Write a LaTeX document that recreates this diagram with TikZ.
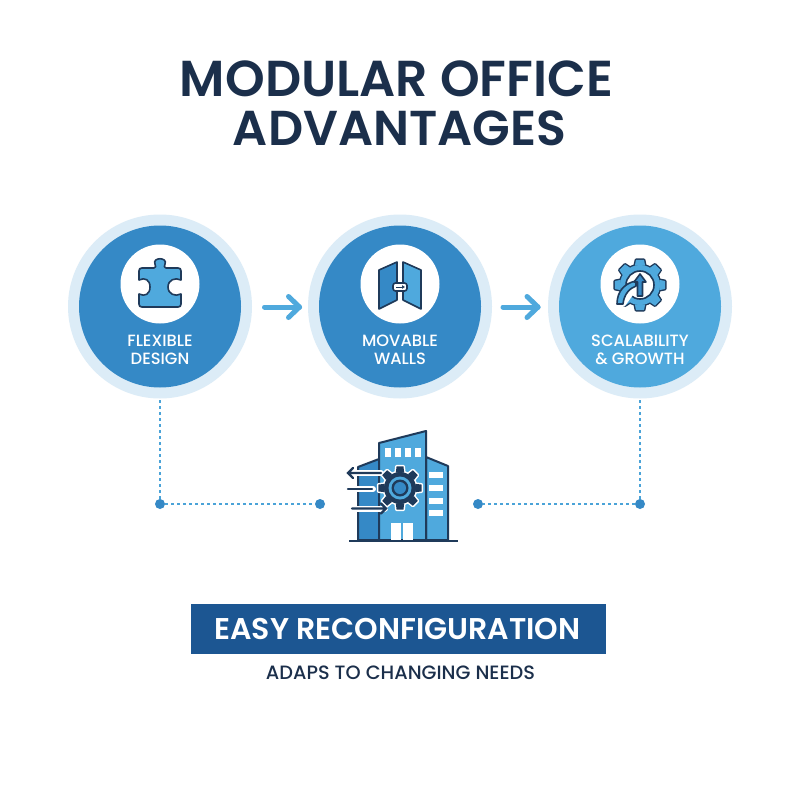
\documentclass[tikz,border=0pt]{standalone}
\usepackage{fontspec}
\setmainfont{Poppins}
\newfontfamily\pbold{Poppins}[UprightFont=* SemiBold]
\newfontfamily\pmed{Poppins}[UprightFont=* Medium]
\usetikzlibrary{calc,arrows.meta}
\definecolor{ink}{HTML}{1B2F4B}
\definecolor{navy}{HTML}{1C5692}
\definecolor{blueA}{HTML}{3589C6}
\definecolor{blueB}{HTML}{4FA9DD}
\definecolor{ringc}{HTML}{DCECF7}
\definecolor{iconin}{HTML}{1F3A5A}
\tikzset{
 ringnode/.style={circle,fill=ringc,minimum size=184pt,inner sep=0pt,outer sep=0pt},
 disc/.style={circle,fill=#1,minimum size=162pt,inner sep=0pt},
 whitedisc/.style={circle,fill=white,minimum size=79pt,inner sep=0pt},
 lab/.style={font=\pmed\fontsize{16.3}{18}\selectfont,text=white,align=center,inner sep=0pt},
 flow/.style={blueB,line width=5pt,line cap=round,line join=round},
 dotlink/.style={blueB!80!blueA,line width=1.2pt,dash pattern=on 3pt off 3pt},
 enddot/.style={circle,fill=blueA,minimum size=10pt,inner sep=0pt},
 iconline/.style={draw=iconin,line width=1.6pt,line join=round},
 bdline/.style={draw=iconin,line width=2pt,line join=round},
 bdarrow/.style={iconin,line width=2.4pt,line cap=round},
 halo/.style={white,line width=6pt,line cap=round},
}
\newcommand\gearparts[3]{%
 \foreach \a in {0,45,...,315}{\path[#3] (\a-15:#1) -- (\a-9:#2) -- (\a+9:#2) -- (\a+15:#1) -- cycle;}%
 \path[#3] (0,0) circle (#1);}
\begin{document}
\begin{tikzpicture}[x=1pt,y=-1pt]
\useasboundingbox (0,0) rectangle (800,800);
\fill[white] (0,0) rectangle (800,800);
% title
\node[font=\pbold\fontsize{50.5}{60}\selectfont,text=ink,inner sep=0pt] (t1) at (396.5,79) {MODULAR OFFICE};
\node[font=\pbold\fontsize{49}{60}\selectfont,text=ink,inner sep=0pt] (t2) at (399.5,128) {ADVANTAGES};
% circles
\node[ringnode] (r1) at (160,306.5) {};
\node[ringnode] (r2) at (400,306.5) {};
\node[ringnode] (r3) at (640,306.5) {};
\node[disc=blueA] (d1) at (160,306.5) {};
\node[disc=blueA] (d2) at (400,306.5) {};
\node[disc=blueB] (d3) at (640,306.5) {};
\node[whitedisc] (w1) at (160,284) {};
\node[whitedisc] (w2) at (400,284) {};
\node[whitedisc] (w3) at (640,284) {};
\node[lab] (l1) at (160,349.5) {FLEXIBLE\\DESIGN};
\node[lab] (l2) at (400,349.5) {MOVABLE\\WALLS};
\node[lab] (l3) at (640,349.5) {SCALABILITY\\\& GROWTH};
% puzzle
\path[fill=blueB,iconline]
 (142,268) -- (154,268) .. controls (156,268) and (156,266) .. (155,264)
 .. controls (152,257) and (168,257) .. (165,264)
 .. controls (164,266) and (164,268) .. (166,268) -- (178,268)
 .. controls (180,268) and (181,269) .. (181,271) -- (181,280)
 .. controls (175,277) and (168,280) .. (168,287)
 .. controls (168,294) and (175,297) .. (181,294) -- (181,304)
 .. controls (181,306) and (180,307) .. (178,307) -- (142,307)
 .. controls (140,307) and (139,306) .. (139,304) -- (139,294)
 .. controls (145,297) and (150,294) .. (150,287)
 .. controls (150,280) and (145,277) .. (139,280) -- (139,271)
 .. controls (139,269) and (140,268) .. (142,268) -- cycle;
% walls
\path[fill=blueA,iconline] (379,270) -- (397,262) -- (397,300) -- (379,309) -- cycle;
\path[fill=blueB,iconline] (403,262) -- (421,270) -- (421,309) -- (403,300) -- cycle;
\path[fill=white,iconline,rounded corners=2.5pt] (393,283) rectangle (407,291);
\draw[iconin,line width=1pt,-{Latex[length=3pt,width=4pt]}] (396,287) -- (405,287);
% growth gear
\begin{scope}[shift={(640,285)}]
 \gearparts{20}{25.5}{draw=iconin,fill=iconin,line width=2.8pt,line join=round}
 \gearparts{20}{25.5}{fill=blueB}
 \path[fill=white,iconline] (0,0) circle (14);
\end{scope}
\path[fill=white] (613,306) -- (617,298) .. controls (620,288) and (628,281) .. (638,279) -- (638,288) -- (625,306) -- cycle;
\path[fill=blueB,iconline] (617,304) .. controls (617,291) and (625,283) .. (636,281) -- (636,286) .. controls (630,288) and (624,294) .. (623,304) -- cycle;
\path[fill=blueA,iconline] (637.5,296) -- (637.5,282) -- (634,282) -- (640,274) -- (646,282) -- (642.5,282) -- (642.5,296) -- cycle;
% flow arrows
\coordinate (a1s) at (264.5,307); \coordinate (a1e) at (299.5,307);
\coordinate (a2s) at (503,307); \coordinate (a2e) at (538,307);
\coordinate (a1u) at (288.5,296.5); \coordinate (a1d) at (288.5,317.5);
\coordinate (a2u) at (527,296.5); \coordinate (a2d) at (527,317.5);
\draw[flow] (a1s) -- (a1e); \draw[flow] (a1u) -- (a1e) -- (a1d);
\draw[flow] (a2s) -- (a2e); \draw[flow] (a2u) -- (a2e) -- (a2d);
% dotted links
\node[enddot] (e1) at (160,504) {};
\node[enddot] (e2) at (320,504) {};
\node[enddot] (e3) at (478,504) {};
\node[enddot] (e4) at (640,504) {};
\coordinate (b1) at (160,400); \coordinate (b3) at (640,400);
\draw[dotlink] (b1) -- (e1) -- (e2);
\draw[dotlink] (b3) -- (e4) -- (e3);
% building
\path[fill=blueA,bdline] (358,540) -- (358,467) -- (379,459) -- (379,540) -- cycle;
\path[fill=blueB,bdline] (426,540) -- (426,457) -- (448,466) -- (448,540) -- cycle;
\path[fill=blueB,bdline] (379,540) -- (379,443) -- (426,431) -- (426,540) -- cycle;
\foreach \x in {385,395,405,415} \fill[white] (\x,448) rectangle ++(5.5,9);
\foreach \y in {472,485,498,510} \fill[white] (429,\y) rectangle (443,\y+6);
\fill[white] (391,523) rectangle (401,540);
\fill[white] (403,523) rectangle (413,540);
\draw[iconin,line width=2.6pt] (349,541) -- (458,541);
\draw[halo] (350,473) -- (381,473);
\draw[halo] (348,489) -- (373,489);
\draw[halo] (353,508.5) -- (385,508.5);
\begin{scope}[shift={(400,488)}]
 \gearparts{16}{22}{draw=white,fill=white,line width=3pt,line join=round}
 \gearparts{16}{22}{fill=iconin}
 \path[fill=blueB] (0,0) circle (11.5);
 \path[fill=iconin] (0,0) circle (8.5);
 \path[fill=blueA] (0,0) circle (6);
\end{scope}
\draw[bdarrow] (381,473) -- (348,473) (353,468) -- (348,473) -- (353,478);
\draw[bdarrow] (348,489) -- (372,489);
\draw[bdarrow] (352,508.5) -- (386,508.5) (381,503.5) -- (386,508.5) -- (381,513.5);
% banner
\node[fill=navy,minimum width=415pt,minimum height=50pt,inner sep=0pt] (ban) at (398.5,629) {};
\node[font=\pbold\fontsize{30}{32}\selectfont,text=white,inner sep=0pt] (bt) at (397.5,629) {EASY RECONFIGURATION};
\node[font=\pmed\fontsize{19.3}{22}\selectfont,text=ink,inner sep=0pt] (st) at (400.5,673) {ADAPS TO CHANGING NEEDS};
\end{tikzpicture}
\end{document}
